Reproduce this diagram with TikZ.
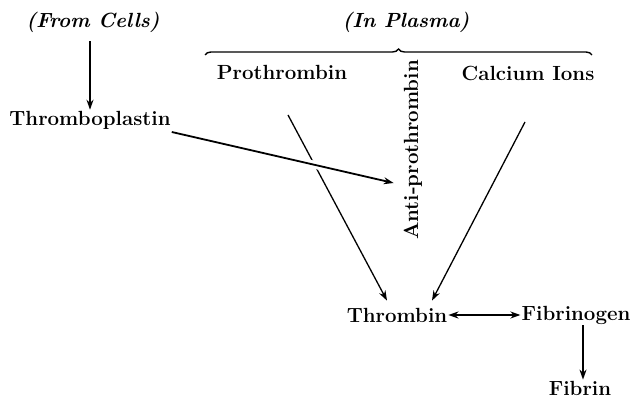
\documentclass[tikz,border=0pt]{standalone}
\usepackage{tikz}
\usetikzlibrary{decorations.pathreplacing, calc, arrows.meta}

\begin{document}
\begin{tikzpicture}[>={Stealth[length=10pt, width=7pt]}, x=1pt, y=-1pt,
    every node/.style={font=\fontsize{20.5}{24}\selectfont\bfseries, inner sep=1pt},
    flow/.style={->, line width=1.8pt},
    feed/.style={->, line width=1.3pt}]
    \useasboundingbox (0,0) rectangle (635,398);

    % Nguồn: từ tế bào
    \node (cells) at (93,22) {\textit{(From Cells)}};
    \node (thrombo) at (90,120) {Thromboplastin};
    \draw[flow] ([yshift=-8pt]thrombo.north |- cells.south) -- (thrombo.north);

    % Trong huyết tương
    \node (plasma) at (406,22) {\textit{(In Plasma)}};
    \coordinate (brL) at (205,55);
    \coordinate (brR) at (592,55);
    \draw[decorate, decoration={brace, amplitude=6pt}, line width=1.4pt] (brL) -- (brR);
    \node (prothr) at (282,72) {Prothrombin};
    \node (calc) at (528,73) {Calcium Ions};
    \node[rotate=90] (anti) at (413,150) {Anti-prothrombin};

    % Sản phẩm
    \node (thrombin) at (397,315) {Thrombin};
    \node (fibgen) at (576,315) {Fibrinogen};
    \node (fibrin) at (580,388) {Fibrin};

    % Các mũi tên
    \coordinate (pStart) at (288,115);
    \coordinate (cStart) at (525,122);
    \draw[feed] (pStart) -- ([xshift=-10pt,yshift=6pt]thrombin.north);
    \draw[feed] (cStart) -- ([xshift=35pt,yshift=6pt]thrombin.north);
    \draw[flow, preaction={draw=white, line width=8pt, -}]
        ([yshift=-12pt]thrombo.east) -- ([xshift=-9pt,yshift=-33pt]anti.north);
    \draw[<->, line width=1.8pt] (thrombin) -- (fibgen);
    \draw[flow] ([xshift=7pt]fibgen.south) -- ([xshift=3pt]fibrin.north);
\end{tikzpicture}
\end{document}
